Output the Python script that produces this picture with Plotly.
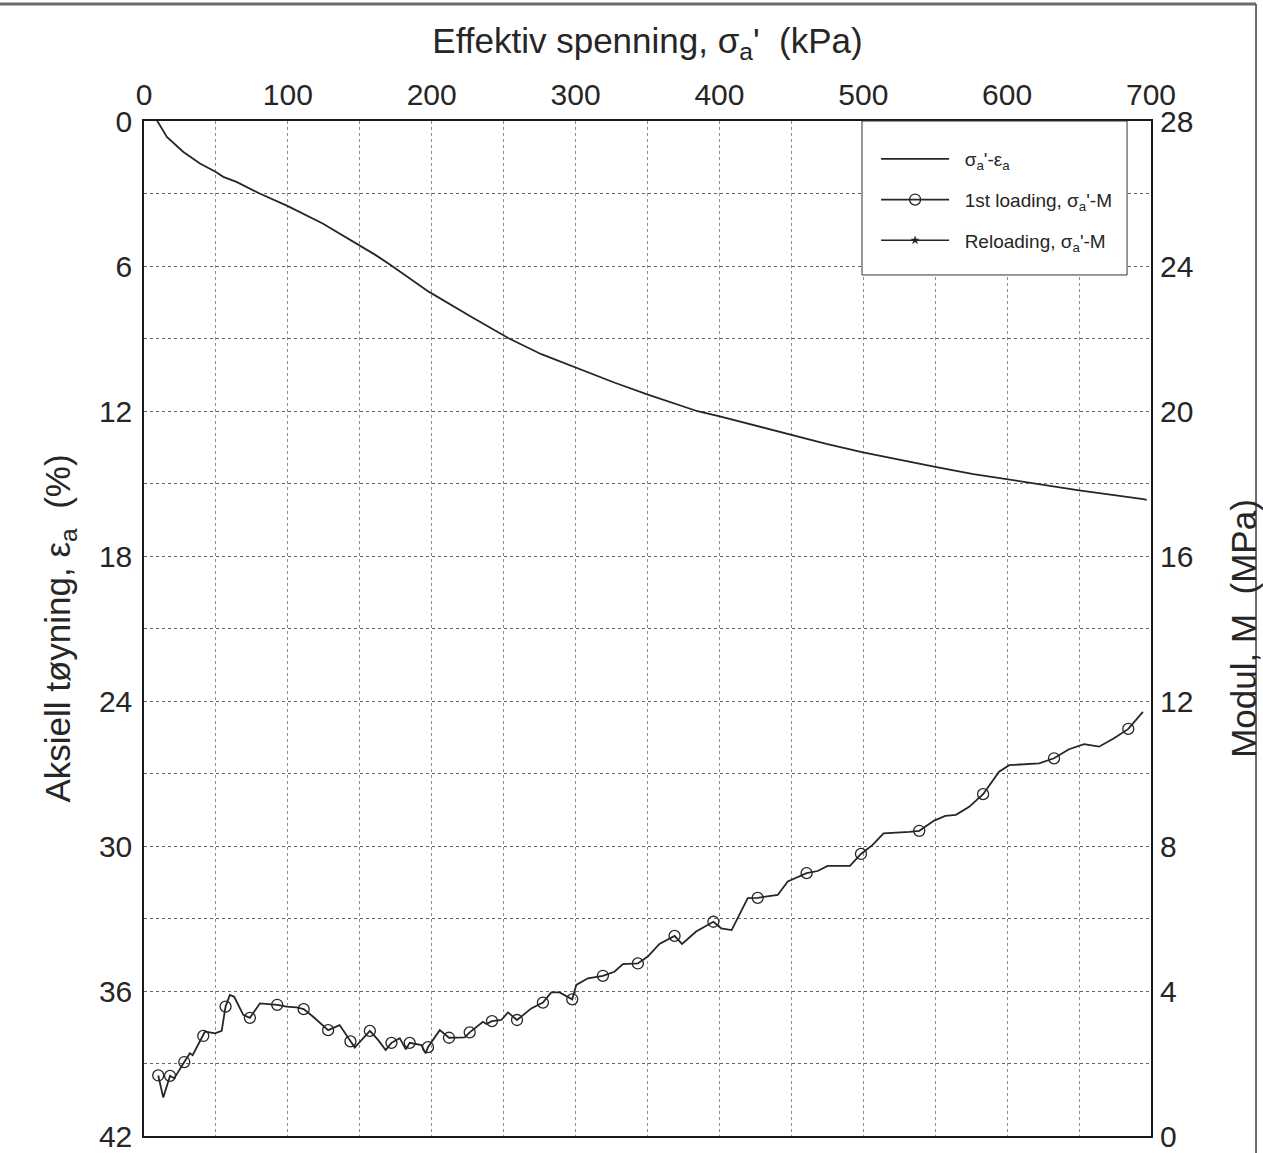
import plotly.graph_objects as go

# Effective stress vs axial strain (left axis, reversed)
sigma_eps = [9, 10.1, 15.9, 27.4, 38.9, 50, 55.1, 64.3, 80.4, 100, 124.2, 149.5, 161.1,
             171.4, 197.9, 228.3, 253.8, 276.2, 300.2, 327.3, 350.3, 384.8, 400.2, 423.2,
             450, 474.3, 499.8, 525.4, 550, 576.5, 599.8, 650, 694.7, 697]
eps_a = [0, 0.08, 0.66, 1.28, 1.76, 2.11, 2.31, 2.52, 3.0, 3.52, 4.24, 5.13, 5.55,
         5.96, 7.06, 8.13, 9.0, 9.65, 10.21, 10.83, 11.32, 12.01, 12.22, 12.57,
         12.99, 13.36, 13.71, 14.03, 14.31, 14.61, 14.83, 15.28, 15.65, 15.68]

# First loading: effective stress vs constrained modulus (right axis)
sigma_load = [9.9, 13.4, 18.1, 21.0, 28.0, 31.9, 33.8, 41.2, 42.4, 49.3, 54.0, 56.7, 59.7,
              62.7, 69.0, 73.6, 80.6, 92.6, 99.1, 106.0, 111.0, 117.6, 128.0, 136.0, 143.5,
              146.5, 157.0, 162.7, 168.0, 172.0, 177.8, 182.0, 184.7, 192.8, 195.8, 197.4,
              205.6, 212.0, 223.0, 226.4, 235.6, 238.0, 241.9, 248.4, 253.0, 259.3, 269.2,
              277.3, 283.1, 288.9, 297.7, 300.5, 308.6, 319.0, 327.0, 332.9, 343.3, 350.2,
              358.3, 368.8, 374.0, 383.8, 395.8, 401.2, 408.5, 419.7, 426.6, 440.5, 447.5,
              460.6, 468.3, 475.2, 490.7, 498.4, 506.5, 514.1, 532.0, 538.9, 549.3, 557.0,
              564.4, 573.6, 583.3, 594.4, 601.4, 622.2, 632.6, 643.0, 653.5, 663.9, 674.3,
              684.2, 694.4]
M_load = [1.67, 1.06, 1.66, 1.59, 2.04, 2.28, 2.23, 2.76, 2.88, 2.83, 2.90, 3.57, 3.89,
          3.84, 3.34, 3.26, 3.66, 3.62, 3.57, 3.55, 3.50, 3.29, 2.92, 3.06, 2.61,
          2.44, 2.90, 2.65, 2.37, 2.57, 2.70, 2.39, 2.57, 2.51, 2.28, 2.45,
          2.92, 2.71, 2.72, 2.86, 3.15, 3.09, 3.17, 3.20, 3.41, 3.20, 3.52,
          3.68, 3.96, 3.96, 3.77, 4.17, 4.35, 4.42, 4.53, 4.74, 4.76, 4.95,
          5.30, 5.52, 5.30, 5.64, 5.91, 5.73, 5.68, 6.56, 6.57, 6.65, 7.02,
          7.25, 7.31, 7.45, 7.45, 7.78, 8.03, 8.35, 8.39, 8.42, 8.70, 8.83,
          8.86, 9.08, 9.43, 10.05, 10.23, 10.28, 10.42, 10.67, 10.81, 10.74, 10.97,
          11.23, 11.70]
# stress levels that carry a measurement marker
sigma_marked = [9.9, 18.1, 28.0, 41.2, 56.7, 73.6, 92.6, 111.0, 128.0, 143.5, 157.0, 172.0,
                184.7, 197.4, 212.0, 226.4, 241.9, 259.3, 277.3, 297.7, 319.0, 343.3, 368.8,
                395.8, 426.6, 460.6, 498.4, 538.9, 583.3, 632.6, 684.2]

# Reloading branch (no reloading data in this test)
sigma_reload = [None]
M_reload = [None]

x_ticks = [0, 100, 200, 300, 400, 500, 600, 700]
eps_ticks = [0, 6, 12, 18, 24, 30, 36, 42]
M_ticks = [0, 4, 8, 12, 16, 20, 24, 28]

INK = "#262626"
FONT = "Liberation Sans, Arial, sans-serif"
GAP = "\u00a0\u00a0"

marker_colors = [INK if s in sigma_marked else "rgba(0,0,0,0)" for s in sigma_load]

fig = go.Figure()
fig.add_trace(go.Scatter(
    x=sigma_eps, y=eps_a, mode="lines", name=GAP + "σ<sub>a</sub>'-ε<sub>a</sub>",
    line=dict(color=INK, width=1.8), legendgroup="g1", yaxis="y"))
fig.add_trace(go.Scatter(
    x=sigma_load, y=M_load, mode="lines+markers", name=GAP + "1st loading, σ<sub>a</sub>'-M",
    line=dict(color=INK, width=1.8),
    marker=dict(symbol="circle-open", size=11, color=marker_colors, line=dict(width=1.3)),
    legendgroup="g2", yaxis="y2"))
fig.add_trace(go.Scatter(
    x=sigma_reload, y=M_reload, mode="lines+markers", name=GAP + "Reloading, σ<sub>a</sub>'-M",
    line=dict(color=INK, width=1.6),
    marker=dict(symbol="star", size=7, color=INK),
    legendgroup="g3", yaxis="y2"))

grid_h = "#5f6670"
grid_v = "#7d8fa3"

fig.update_layout(
    width=1263, height=1153,
    margin=dict(l=144, r=112, t=121, b=17),
    paper_bgcolor="white", plot_bgcolor="white",
    font=dict(family=FONT, color=INK, size=30),
    xaxis=dict(
        side="top", range=[0, 700], tickvals=x_ticks, ticks="", automargin=False,
        showgrid=True, gridcolor=grid_v, griddash="dot", gridwidth=1,
        minor=dict(dtick=50, tick0=0, showgrid=True, gridcolor=grid_v, griddash="dot", gridwidth=1),
        showline=True, mirror=True, linecolor="#1a1a1a", linewidth=1.5,
        tickfont=dict(size=30), ticklabelstandoff=2,
        title=dict(text="Effektiv spenning, σ<sub>a</sub>'\u00a0\u00a0(kPa)", font=dict(size=35), standoff=14),
        zeroline=False,
    ),
    yaxis=dict(
        range=[42, 0], tickvals=eps_ticks, ticks="", automargin=False,
        showgrid=True, gridcolor=grid_h, griddash="dot", gridwidth=1,
        minor=dict(dtick=3, tick0=0, showgrid=True, gridcolor=grid_h, griddash="dot", gridwidth=1),
        showline=True, mirror=True, linecolor="#1a1a1a", linewidth=1.5,
        tickfont=dict(size=30), ticklabelstandoff=4,
        title=dict(text="Aksiell tøyning, ε<sub>a</sub>\u00a0\u00a0(%)", font=dict(size=35), standoff=18),
        zeroline=False,
    ),
    yaxis2=dict(
        overlaying="y", side="right", range=[0, 28], tickvals=M_ticks, ticks="", automargin=False,
        showgrid=False, showline=True, linecolor="#1a1a1a", linewidth=2,
        tickfont=dict(size=30), ticklabelstandoff=1,
        title=dict(text="Modul, M\u00a0\u00a0(MPa)", font=dict(size=35), standoff=40),
        zeroline=False,
    ),
    legend=dict(
        x=0.727, y=0.9813, xanchor="left", yanchor="top",
        bgcolor="rgba(0,0,0,0)", borderwidth=0,
        font=dict(size=19, color=INK, family=FONT),
        traceorder="grouped", tracegroupgap=13, itemwidth=68,
    ),
    showlegend=True,
)

# legend frame
fig.add_shape(type="rect", xref="paper", yref="paper", x0=0.713, x1=0.9762, y0=0.8483, y1=1.0,
              line=dict(color="#333333", width=1), fillcolor="white", layer="above")

# page frame around the figure sheet
fig.add_shape(type="line", xref="paper", yref="paper", x0=-0.2, x1=1.1043, y0=1.1153, y1=1.1153,
              line=dict(color="#6b6b6b", width=3))
fig.add_shape(type="line", xref="paper", yref="paper", x0=1.1043, x1=1.1043, y0=1.1153, y1=-0.02,
              line=dict(color="#6b6b6b", width=2))

fig.write_html("out.html")
